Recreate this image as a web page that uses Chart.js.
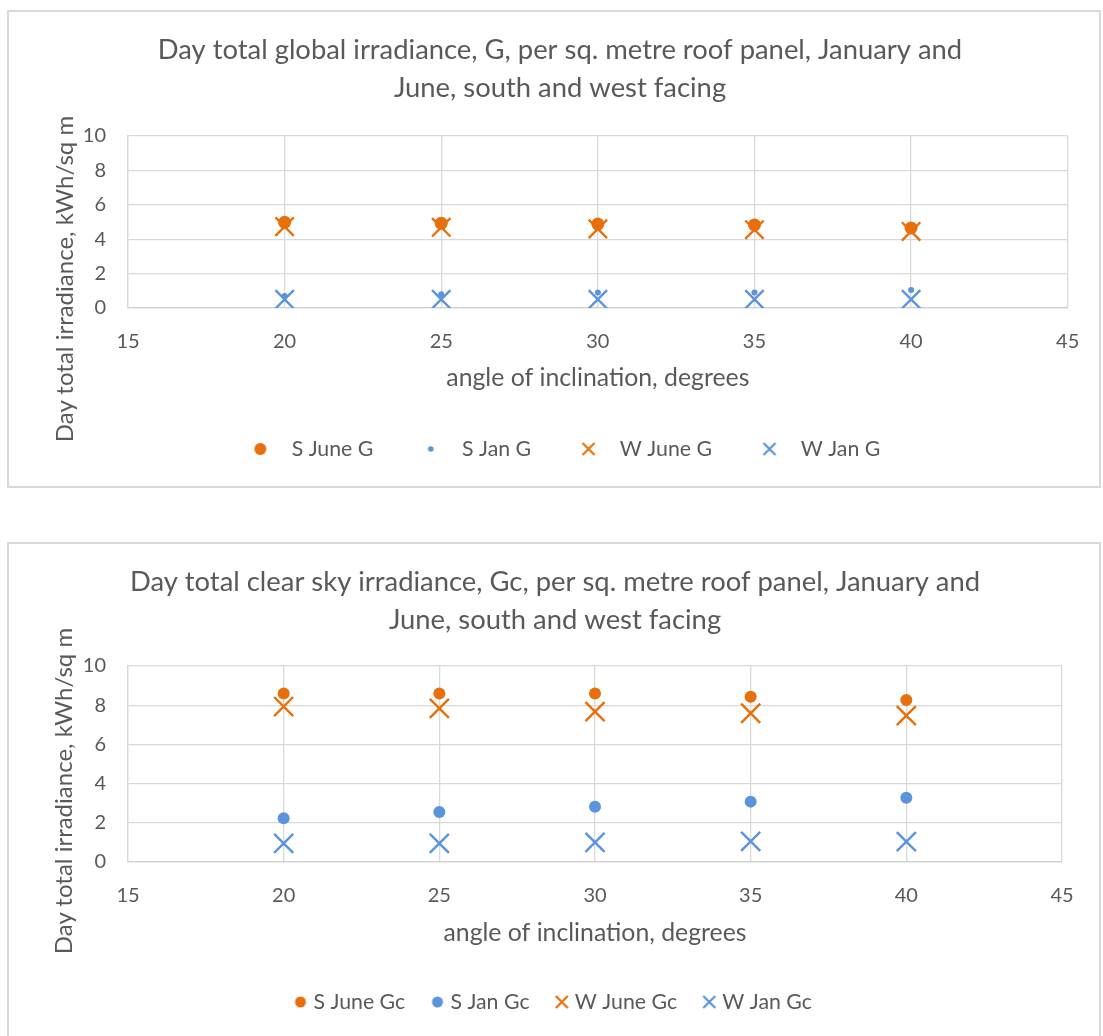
<!DOCTYPE html>
<html lang="en">
<head>
    <meta charset="UTF-8">
    <title>Day total irradiance</title>
    <script src="https://cdn.jsdelivr.net/npm/chart.js"></script>
    <style>
        body { margin: 0; background: #ffffff; width: 1103px; height: 1036px; overflow: hidden; position: relative; }
        .box { position: absolute; left: 7px; width: 1094px; box-sizing: border-box; border: 2px solid #d9d9d9; background: #fff; }
        canvas { position: absolute; left: 7px; }
        .ytitle {
            position: absolute; font-family: Lato, sans-serif; font-size: 24px; color: #595959;
            white-space: nowrap; transform: translate(-50%, -50%) rotate(-90deg);
        }
    </style>
</head>
<body>
    <div class="box" style="top:10px;height:478px"></div>
    <div class="box" style="top:542px;height:520px"></div>
    <canvas id="chartG" width="1094" height="478" style="top:10px"></canvas>
    <canvas id="chartGc" width="1094" height="494" style="top:542px"></canvas>
    <div class="ytitle" style="left:63px;top:279px">Day total irradiance, kWh/sq m</div>
    <div class="ytitle" style="left:62px;top:791px">Day total irradiance, kWh/sq m</div>

    <script>
        // angle of inclination (degrees)
        const angles = [20, 25, 30, 35, 40];

        // global irradiance G, kWh/sq m
        const sJuneG = [4.98, 4.92, 4.88, 4.83, 4.65];
        const sJanG = [0.7, 0.8, 0.9, 0.9, 1.05];
        const wJuneG = [4.73, 4.69, 4.6, 4.55, 4.45];
        const wJanG = [0.5, 0.5, 0.5, 0.5, 0.5];

        // clear sky irradiance Gc, kWh/sq m
        const sJuneGc = [8.6, 8.6, 8.6, 8.43, 8.27];
        const sJanGc = [2.23, 2.55, 2.82, 3.08, 3.28];
        const wJuneGc = [7.93, 7.84, 7.67, 7.59, 7.47];
        const wJanGc = [0.95, 0.95, 1.0, 1.05, 1.04];

        const xTicks = [15, 20, 25, 30, 35, 40, 45];
        const yTicks = [0, 2, 4, 6, 8, 10];

        const ORANGE = '#e8700c';
        const BLUE = '#5b93dc';
        const GREY = '#595959';
        const FONT = 'Lato, sans-serif';

        const toPoints = ys => angles.map((a, i) => ({ x: a, y: ys[i] }));

        // little canvas icons for the legend
        function icon(kind, color, size) {
            const c = document.createElement('canvas');
            c.width = 20; c.height = 20;
            const g = c.getContext('2d');
            if (kind === 'dot') {
                g.fillStyle = color;
                g.beginPath();
                g.arc(10, 10, size, 0, Math.PI * 2);
                g.fill();
            } else {
                g.strokeStyle = color;
                g.lineWidth = 2.2;
                g.beginPath();
                g.moveTo(10 - size, 10 - size); g.lineTo(10 + size, 10 + size);
                g.moveTo(10 + size, 10 - size); g.lineTo(10 - size, 10 + size);
                g.stroke();
            }
            return c;
        }

        function makeChart(id, cfg) {
            const datasets = cfg.series.map((s, i) => ({
                label: s.label,
                data: toPoints(s.data),
                pointStyle: s.kind === 'dot' ? 'circle' : 'crossRot',
                pointRadius: s.radius,
                pointHoverRadius: s.radius,
                backgroundColor: s.color,
                borderColor: s.color,
                borderWidth: s.kind === 'dot' ? 0 : 2.4,
                order: 4 - i
            }));
            const icons = cfg.series.map(s => icon(s.kind, s.color, s.legendSize));

            return new Chart(document.getElementById(id), {
                type: 'scatter',
                data: { datasets },
                options: {
                    responsive: false,
                    animation: false,
                    layout: { padding: { left: 41, right: cfg.padRight, top: 0, bottom: cfg.padBottom } },
                    plugins: {
                        tooltip: { enabled: false },
                        title: {
                            display: true,
                            text: cfg.title,
                            color: GREY,
                            font: { family: FONT, size: 27.4, weight: 'normal', lineHeight: '38px' },
                            padding: { top: 21, bottom: cfg.titleBottom }
                        },
                        legend: {
                            position: 'bottom',
                            labels: {
                                usePointStyle: true,
                                pointStyleWidth: cfg.legendBox,
                                padding: cfg.legendPad,
                                color: GREY,
                                font: { family: FONT, size: 21.3 },
                                sort: (a, b) => a.datasetIndex - b.datasetIndex,
                                generateLabels: chart => Chart.defaults.plugins.legend.labels.generateLabels(chart)
                                    .map(l => ({ ...l, pointStyle: icons[l.datasetIndex] }))
                            }
                        }
                    },
                    scales: {
                        x: {
                            type: 'linear',
                            min: xTicks[0],
                            max: xTicks[xTicks.length - 1],
                            afterBuildTicks: s => { s.ticks = xTicks.map(v => ({ value: v })); },
                            afterFit: s => { s.height = cfg.xHeight; },
                            grid: { color: '#d9d9d9', lineWidth: 1.3, drawTicks: false },
                            border: { color: '#d0d0d0', width: 1.3 },
                            ticks: { color: GREY, padding: 21.7, font: { family: FONT, size: 20 } },
                            title: {
                                display: true,
                                text: 'angle of inclination, degrees',
                                color: GREY,
                                font: { family: FONT, size: 24.8 },
                                padding: { top: 0, bottom: cfg.xTitleBottom }
                            }
                        },
                        y: {
                            min: yTicks[0],
                            max: yTicks[yTicks.length - 1],
                            afterBuildTicks: s => { s.ticks = yTicks.map(v => ({ value: v })); },
                            afterFit: s => { s.width = 80; },
                            grid: { color: '#d9d9d9', lineWidth: 1.3, drawTicks: false },
                            border: { color: '#d9d9d9', width: 1.3 },
                            ticks: { color: GREY, padding: 22, font: { family: FONT, size: 20 } }
                        }
                    }
                }
            });
        }

        // top chart: global irradiance
        makeChart('chartG', {
            title: ['Day total global irradiance, G, per sq. metre roof panel, January and',
                'June, south and west facing'],
            series: [
                { label: 'S June G', data: sJuneG, kind: 'dot', color: ORANGE, radius: 6.5, legendSize: 6 },
                { label: 'S Jan G', data: sJanG, kind: 'dot', color: BLUE, radius: 3, legendSize: 2.8 },
                { label: 'W June G', data: wJuneG, kind: 'x', color: ORANGE, radius: 13, legendSize: 6 },
                { label: 'W Jan G', data: wJanG, kind: 'x', color: BLUE, radius: 13, legendSize: 6 }
            ],
            padRight: 29, padBottom: 18.4, titleBottom: 29,
            xHeight: 93.6, xTitleBottom: 8.7,
            legendBox: 41.3, legendPad: 36.75
        });

        // bottom chart: clear sky irradiance
        makeChart('chartGc', {
            title: ['Day total clear sky irradiance, Gc, per sq. metre roof panel, January and',
                'June, south and west facing'],
            series: [
                { label: 'S June Gc', data: sJuneGc, kind: 'dot', color: ORANGE, radius: 6, legendSize: 5.5 },
                { label: 'S Jan Gc', data: sJanGc, kind: 'dot', color: BLUE, radius: 6, legendSize: 5.5 },
                { label: 'W June Gc', data: wJuneGc, kind: 'x', color: ORANGE, radius: 13.5, legendSize: 6 },
                { label: 'W Jan Gc', data: wJanGc, kind: 'x', color: BLUE, radius: 13.5, legendSize: 6 }
            ],
            padRight: 39, padBottom: 13.35, titleBottom: 27,
            xHeight: 99.45, xTitleBottom: 13.55,
            legendBox: 4.7, legendPad: 29.9
        });
    </script>
</body>
</html>
